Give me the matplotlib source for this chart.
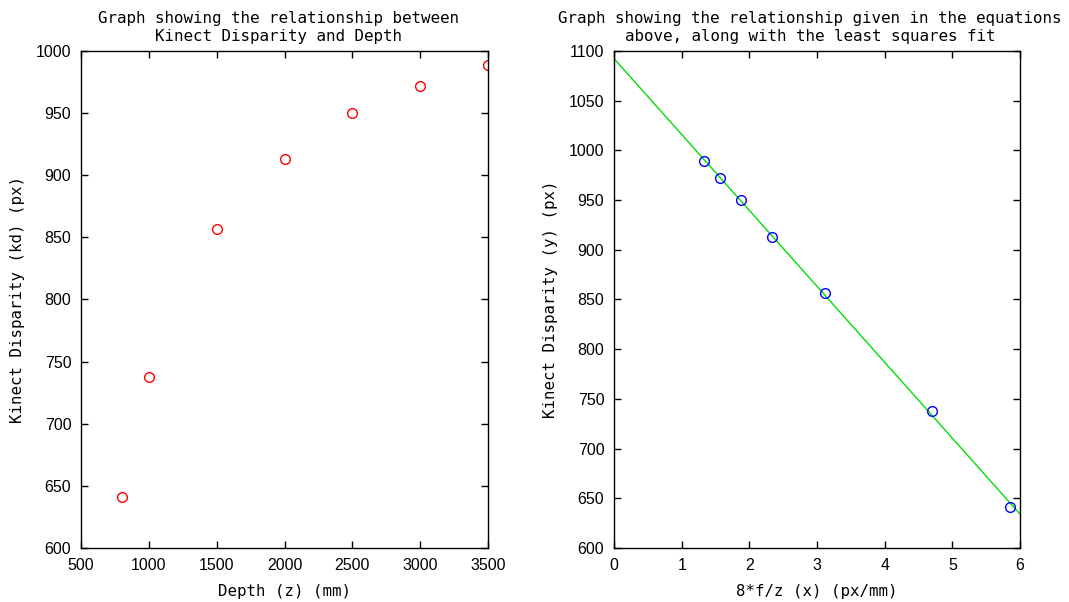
import numpy as np
import matplotlib.pyplot as plt

# measured depth vs raw kinect disparity
depth = [800, 1000, 1500, 2000, 2500, 3000, 3500]
disparity = [641, 738, 857, 913, 950, 972, 989]

# 8*f/z values
x_vals = [5.85, 4.70, 3.12, 2.34, 1.87, 1.56, 1.33]

mono = "DejaVu Sans Mono"
sans = "Liberation Sans"

fig = plt.figure(figsize=(10.69, 6.02), dpi=100)
ax1 = fig.add_axes([0.0758, 0.0897, 0.3807, 0.8256])
ax2 = fig.add_axes([0.5744, 0.0897, 0.3798, 0.8256])

def style(ax):
    ax.tick_params(direction="in", top=True, right=True, length=5, width=1,
                   labelsize=11.5, pad=7)
    for lab in ax.get_xticklabels() + ax.get_yticklabels():
        lab.set_fontfamily(sans)
    for s in ax.spines.values():
        s.set_linewidth(1)

# Left plot
ax1.plot(depth, disparity, "o", mfc="none", mec="red", ms=7, mew=1)
ax1.set_xlim(500, 3500)
ax1.set_ylim(600, 1000)
ax1.set_xticks(np.arange(500, 3501, 500))
ax1.set_yticks(np.arange(600, 1001, 50))
ax1.set_title("Graph showing the relationship between\nKinect Disparity and Depth",
              fontfamily=mono, fontsize=11.4, pad=7, linespacing=1.3, x=0.485)
ax1.set_xlabel("Depth (z) (mm)", fontfamily=mono, fontsize=11.3, labelpad=8)
ax1.set_ylabel("Kinect Disparity (kd) (px)", fontfamily=mono, fontsize=11.3, labelpad=8)
style(ax1)

# Right plot with least squares fit
slope, intercept = np.polyfit(x_vals, disparity, 1)
xfit = np.array([0, 6])
ax2.plot(xfit, intercept + slope * xfit, color="#00e000", lw=1)
ax2.plot(x_vals, disparity, "o", mfc="none", mec="blue", ms=7, mew=1)
ax2.set_xlim(0, 6)
ax2.set_ylim(600, 1100)
ax2.set_xticks(range(0, 7))
ax2.set_yticks(np.arange(600, 1101, 50))
ax2.set_title("Graph showing the relationship given in the equations\nabove, along with the least squares fit",
              fontfamily=mono, fontsize=11.4, pad=7, linespacing=1.3, x=0.483)
ax2.set_xlabel("8*f/z (x) (px/mm)", fontfamily=mono, fontsize=11.3, labelpad=8)
ax2.set_ylabel("Kinect Disparity (y) (px)", fontfamily=mono, fontsize=11.3, labelpad=8)
style(ax2)

fig.savefig("out.png", dpi=100)
